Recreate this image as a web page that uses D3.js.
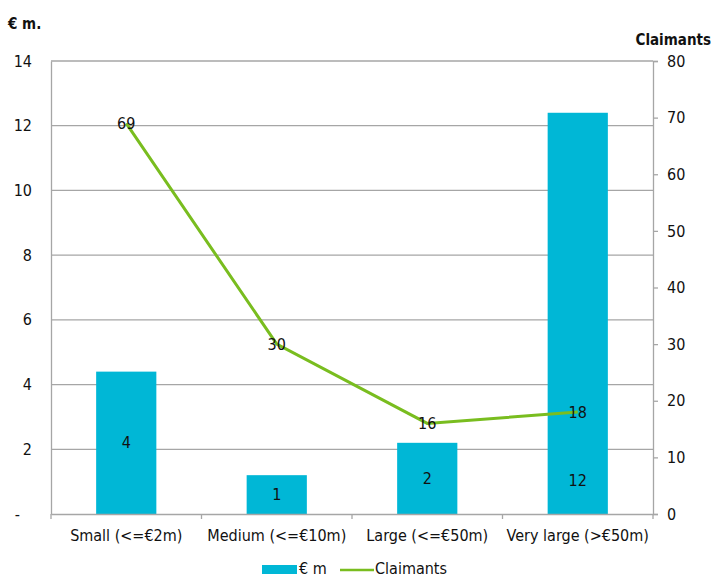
<!DOCTYPE html>
<html>
<head>
<meta charset="utf-8">
<script src="https://cdn.jsdelivr.net/npm/d3@7"></script>
<style>
  html, body { margin: 0; padding: 0; background: #fff; }
  svg { display: block; }
  svg text { font-family: "DejaVu Sans Condensed", "DejaVu Sans", sans-serif; }
</style>
</head>
<body>
<svg id="chart" width="713" height="580"></svg>
<script>
// Claims by size band: value (€ m) as bars, number of claimants as a line
const categories = ["Small (<=€2m)", "Medium (<=€10m)", "Large (<=€50m)", "Very large (>€50m)"];
const amountsEurM = [4.4, 1.2, 2.2, 12.4];
const claimants = [69, 30, 16, 18];
const leftTicks = [0, 2, 4, 6, 8, 10, 12, 14];
const rightTicks = [0, 10, 20, 30, 40, 50, 60, 70, 80];

const svg = d3.select("#chart");
const plotL = 51, plotR = 653, plotT = 61, plotB = 514;
const fontFam = '"DejaVu Sans Condensed", "DejaVu Sans", sans-serif';
const fs = 16;

const x = d3.scaleBand().domain(categories).range([plotL, plotR]).paddingInner(0.6).paddingOuter(0.3);
const xBand = d3.scaleBand().domain(categories).range([plotL, plotR]);
const yL = d3.scaleLinear().domain([0, 14]).range([plotB, plotT]);
const yR = d3.scaleLinear().domain([0, 80]).range([plotB, plotT]);

const gridColor = "#a6a6a6";
const barColor = "#00b7d6";
const lineColor = "#79bd1f";
const textColor = "#111";

// horizontal gridlines
svg.append("g").selectAll("line").data(leftTicks.filter(d => d > 0)).join("line")
  .attr("x1", plotL).attr("x2", plotR)
  .attr("y1", d => yL(d)).attr("y2", d => yL(d))
  .attr("stroke", gridColor).attr("stroke-width", 1.3);

// left axis
const leftAxis = d3.axisLeft(yL).tickValues(leftTicks).tickSize(0).tickPadding(19)
  .tickFormat(d => d === 0 ? "-" : d);
const gL = svg.append("g").attr("transform", `translate(${plotL},0)`).call(leftAxis)
  .attr("font-family", fontFam).attr("font-size", fs);
gL.select(".domain").attr("stroke", gridColor).attr("stroke-width", 1.3);
gL.selectAll("text").attr("fill", textColor);
gL.selectAll(".tick").filter(d => d === 0).select("text").attr("dx", -12);

// right axis
const rightAxis = d3.axisRight(yR).tickValues(rightTicks).tickSize(5).tickPadding(9);
const gR = svg.append("g").attr("transform", `translate(${plotR},0)`).call(rightAxis)
  .attr("font-family", fontFam).attr("font-size", fs);
gR.select(".domain").attr("stroke", gridColor).attr("stroke-width", 1.3);
gR.selectAll("line").attr("stroke", gridColor).attr("stroke-width", 1.3);
gR.selectAll("text").attr("fill", textColor);

// bars
svg.append("g").selectAll("rect").data(amountsEurM).join("rect")
  .attr("x", (d, i) => x(categories[i]))
  .attr("width", x.bandwidth())
  .attr("y", d => yL(d))
  .attr("height", d => yL(0) - yL(d))
  .attr("fill", barColor);

// bar value labels (tall bars carry their label near the base)
const fmt = d3.format(".0f");
svg.append("g").selectAll("text").data(amountsEurM).join("text")
  .attr("x", (d, i) => x(categories[i]) + x.bandwidth() / 2)
  .attr("y", d => d > 7 ? yL(1.05) : yL(d / 2))
  .attr("dy", "0.35em")
  .attr("text-anchor", "middle")
  .attr("font-size", fs).attr("fill", textColor)
  .text(d => fmt(d));

// x axis baseline and category boundary ticks
const gX = svg.append("g").attr("transform", `translate(0,${yL(0)})`)
  .call(d3.axisBottom(xBand).tickSize(0).tickPadding(16))
  .attr("font-family", fontFam).attr("font-size", fs);
gX.select(".domain").attr("stroke", gridColor).attr("stroke-width", 1.3);
gX.selectAll("text").attr("fill", textColor);
const bounds = categories.map(c => xBand(c)).concat([plotR]);
svg.append("g").selectAll("line").data(bounds).join("line")
  .attr("x1", d => d).attr("x2", d => d)
  .attr("y1", yL(0)).attr("y2", yL(0) + 5)
  .attr("stroke", gridColor).attr("stroke-width", 1.3);

// claimants line
const cx = (i) => xBand(categories[i]) + xBand.bandwidth() / 2;
const line = d3.line().x((d, i) => cx(i)).y(d => yR(d));
svg.append("path").datum(claimants)
  .attr("d", line).attr("fill", "none")
  .attr("stroke", lineColor).attr("stroke-width", 3);

svg.append("g").selectAll("text").data(claimants).join("text")
  .attr("x", (d, i) => cx(i))
  .attr("y", d => yR(d))
  .attr("dy", "0.35em")
  .attr("text-anchor", "middle")
  .attr("font-size", fs).attr("fill", textColor)
  .text(d => d);

// axis titles
svg.append("text").attr("x", 8).attr("y", 29)
  .attr("font-size", 15).attr("font-weight", "bold").attr("fill", textColor)
  .text("€ m.");
svg.append("text").attr("x", 711).attr("y", 45).attr("text-anchor", "end")
  .attr("font-size", 15).attr("font-weight", "bold").attr("fill", textColor)
  .text("Claimants");

// legend
const lg = svg.append("g");
lg.append("rect").attr("x", 262).attr("y", 565).attr("width", 35).attr("height", 9).attr("fill", barColor);
lg.append("text").attr("x", 299).attr("y", 574)
  .attr("font-size", fs).attr("fill", textColor).text("€ m");
lg.append("line").attr("x1", 340).attr("x2", 374).attr("y1", 570).attr("y2", 570)
  .attr("stroke", lineColor).attr("stroke-width", 2.5);
lg.append("text").attr("x", 375).attr("y", 574)
  .attr("font-size", fs).attr("fill", textColor).text("Claimants");
</script>
</body>
</html>
